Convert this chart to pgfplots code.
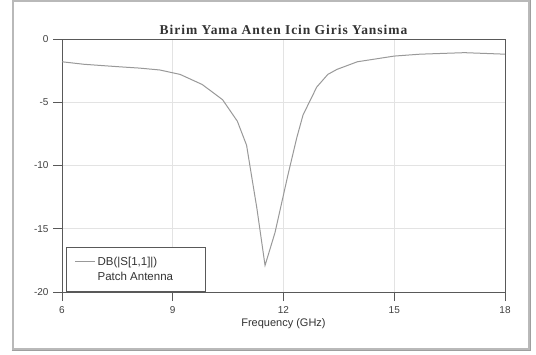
\documentclass[border=0pt]{standalone}
\usepackage{pgfplots}
\pgfplotsset{compat=1.18}
\usepackage{fontspec}
\setmainfont{Liberation Sans}
\newfontfamily\titlefont[LetterSpace=7]{Liberation Serif}
\begin{document}
\begin{tikzpicture}[x=1pt,y=1pt]
\useasboundingbox (0,0) rectangle (536,354);
\fill[white] (0,0) rectangle (536,354);
\draw[gray!55, line width=2.5pt] (13,5) rectangle (529,353);
\draw[gray!75, line width=0.6pt] (11.5,3.5) -- (530.5,3.5) -- (530.5,354);
\begin{axis}[
  at={(62pt,62pt)}, anchor=south west,
  scale only axis, width=443pt, height=253pt,
  xmin=6, xmax=18, ymin=-20, ymax=0,
  xtick={6,9,12,15,18}, ytick={-20,-15,-10,-5,0},
  xtick pos=lower, ytick pos=left,
  tick align=outside, major tick length=9pt,
  grid=major, grid style={gray!22, line width=0.6pt},
  axis line style={gray!70!black, line width=0.7pt},
  tick style={gray!70!black, line width=0.7pt},
  ticklabel style={font=\fontsize{10}{12}\selectfont, text=black!75},
  /pgf/number format/assume math mode=true,
  xticklabel style={yshift=-2pt},
  yticklabel style={xshift=-1pt},
  xlabel={Frequency (GHz)},
  xlabel style={font=\fontsize{11}{13}\selectfont, text=black!80, yshift=2pt},
  title={\titlefont\bfseries Birim Yama Anten Icin Giris Yansima},
  title style={font=\fontsize{13.5}{15}\selectfont, text=black!80, yshift=-5pt},
  legend style={at={(0.01,0)}, anchor=south west, draw=gray!70!black, line width=0.8pt,
    font=\fontsize{11.5}{13}\selectfont, text=black!80, inner xsep=8pt, inner ysep=8pt,
    row sep=1pt, cells={anchor=west}},
  legend cell align=left,
  legend image code/.code={\draw[#1, line width=0.8pt] (0pt,0pt) -- (20pt,0pt);},
]
\addplot[gray!80, line width=1pt] coordinates {
(6,-1.8) (6.6,-2.0) (7.57,-2.2) (8.1,-2.3) (8.65,-2.45) (9.2,-2.8) (9.8,-3.6)
(10.35,-4.8) (10.75,-6.5) (11.0,-8.4) (11.1,-10.2) (11.28,-13.4) (11.5,-17.9)
(11.77,-15.3) (12.12,-10.75) (12.36,-7.8) (12.53,-6.0) (12.9,-3.8) (13.2,-2.8)
(13.45,-2.4) (14.0,-1.8) (15.0,-1.35) (15.7,-1.2) (16.9,-1.08) (18,-1.2)
};
\addlegendentry{DB(|S[1,1]|)}
\addlegendimage{empty legend}
\addlegendentry{Patch Antenna\hspace*{22pt}}
\end{axis}
\end{tikzpicture}
\end{document}
